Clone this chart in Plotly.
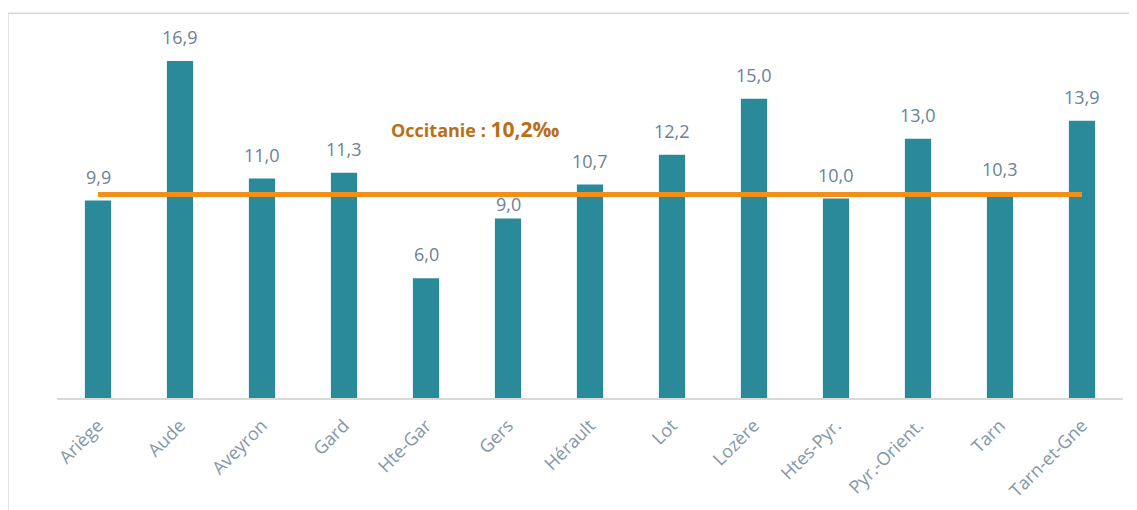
import plotly.graph_objects as go

# data
departements = ["Ariège", "Aude", "Aveyron", "Gard", "Hte-Gar", "Gers", "Hérault",
                "Lot", "Lozère", "Htes-Pyr.", "Pyr.-Orient.", "Tarn", "Tarn-et-Gne"]
taux = [9.9, 16.9, 11.0, 11.3, 6.0, 9.0, 10.7, 12.2, 15.0, 10.0, 13.0, 10.3, 13.9]
taux_occitanie = 10.2

BAR_COLOR = "#2B8A9A"
LINE_COLOR = "#F0901A"
LABEL_COLOR = "#6C8296"
TICK_COLOR = "#8497A8"
FONT = "Open Sans"

fig = go.Figure()

fig.add_trace(go.Bar(
    x=departements,
    y=taux,
    marker=dict(color=BAR_COLOR, line=dict(width=0)),
    hoverinfo="skip",
))

fig.add_trace(go.Scatter(
    x=departements,
    y=[taux_occitanie] * len(departements),
    mode="lines",
    line=dict(color=LINE_COLOR, width=5),
    hoverinfo="skip",
))

# value labels above bars (Gers label sits a bit lower in the original)
label_shift = {"Gers": 15}
for dep, v in zip(departements, taux):
    fig.add_annotation(
        x=dep, y=v,
        text=f"{v:.1f}".replace(".", ","),
        showarrow=False,
        yanchor="middle",
        yshift=label_shift.get(dep, 24),
        font=dict(family=FONT, size=18, color=LABEL_COLOR),
    )

fig.add_annotation(
    x=4.6, y=13.5,
    text="<b>Occitanie : <span style='font-size:21px'>"
         + f"{taux_occitanie:.1f}".replace(".", ",") + "‰</span></b>",
    showarrow=False,
    font=dict(family=FONT, size=18, color="#B96F14"),
)

# outer frame of the chart area
fig.add_shape(
    type="rect", xref="paper", yref="paper",
    x0=-0.046, x1=1.03, y0=-0.35, y1=1.072,
    line=dict(color="#D9D9D9", width=1.5),
    fillcolor="rgba(0,0,0,0)",
    layer="below",
)

# the html page adds an 8px body margin, so margins are reduced by 8
fig.update_layout(
    width=1137,
    height=510,
    margin=dict(l=49, r=22, t=31, b=120, autoexpand=False),
    plot_bgcolor="white",
    paper_bgcolor="white",
    showlegend=False,
    bargap=0.68,
    font=dict(family=FONT),
    xaxis=dict(
        tickangle=-45,
        tickfont=dict(family=FONT, size=18, color=TICK_COLOR),
        ticklabelstandoff=8,
        automargin=False,
        showline=True,
        linecolor="#D9D9D9",
        linewidth=2,
        showgrid=False,
        ticks="",
        fixedrange=True,
    ),
    yaxis=dict(
        range=[0, 18],
        visible=False,
        showgrid=False,
        zeroline=False,
        fixedrange=True,
    ),
)

fig.write_html("out.html")
